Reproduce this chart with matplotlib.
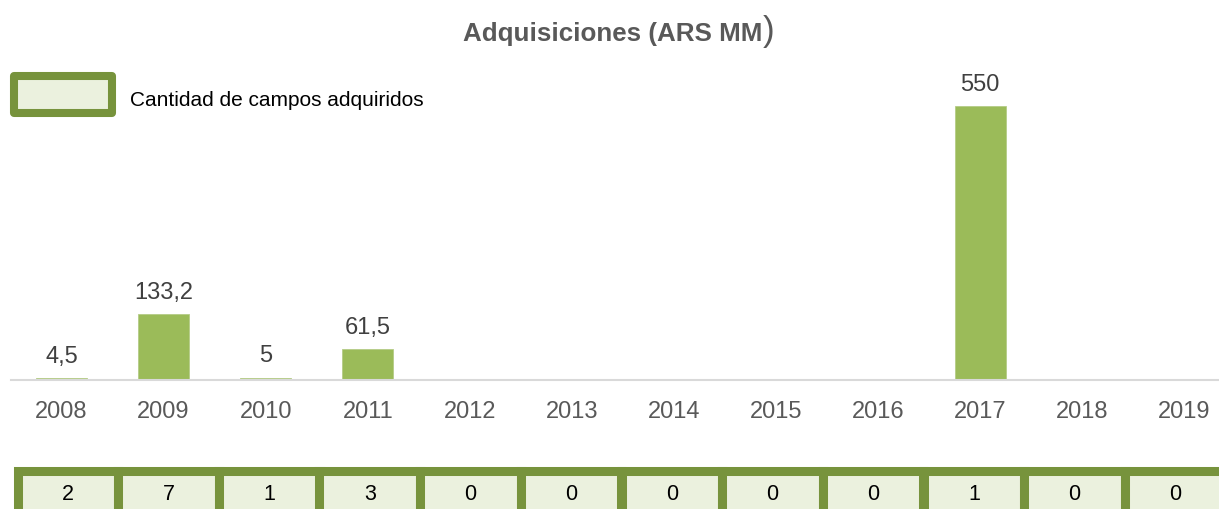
import matplotlib.pyplot as plt
from matplotlib.patches import Rectangle
import numpy as np

# data
years = ['2008', '2009', '2010', '2011', '2012', '2013', '2014', '2015', '2016', '2017', '2018', '2019']
amounts = [4.5, 133.2, 5, 61.5, 0, 0, 0, 0, 0, 550, 0, 0]
amount_labels = ['4,5', '133,2', '5', '61,5', '', '', '', '', '', '550', '', '']
fields_bought = [2, 7, 1, 3, 0, 0, 0, 0, 0, 1, 0, 0]
table_name = 'Cantidad de campos adquiridos'

plt.rcParams['font.family'] = ['Liberation Sans', 'DejaVu Sans']

W, H = 1219, 510
fig = plt.figure(figsize=(W / 100, H / 100), dpi=100)

bar_green = '#9BBB59'
dark_green = '#77933C'
light_green = '#EBF1DE'
grey_text = '#595959'

# main bar chart
ax = fig.add_axes([10.5 / W, (H - 381) / H, 1225 / W, 299 / H])
x = np.arange(len(years))
ax.bar(x, amounts, width=0.5, color=bar_green, edgecolor='#B5CC86', linewidth=0.6)
for xi, v, lab in zip(x, amounts, amount_labels):
    if lab:
        ax.annotate(lab, (xi, v), xytext=(0, 8), textcoords='offset points',
                    ha='center', va='bottom', fontsize=17, color='#404040')
ax.set_xlim(-0.5, len(years) - 0.5)
ax.set_ylim(0, 600)
ax.set_xticks(x)
ax.set_xticklabels(years, fontsize=17, color=grey_text)
ax.tick_params(axis='x', length=0, pad=14.5)
ax.set_yticks([])
for s in ['top', 'right', 'left']:
    ax.spines[s].set_visible(False)
ax.spines['bottom'].set_color('#D9D9D9')
ax.spines['bottom'].set_linewidth(1.5)

# data table row underneath
tax = fig.add_axes([17.5 / W, -8 / H, 1208 / W, 46 / H])
tax.bar(x, [1] * len(years), width=1.0, bottom=0, color=light_green,
        edgecolor=dark_green, linewidth=6.5, clip_on=False)
for xi, n in zip(x, fields_bought):
    tax.text(xi, 0.5, str(n), ha='center', va='center', fontsize=15.5, color='black')
tax.set_xlim(-0.5, len(years) - 0.5)
tax.set_ylim(0, 1)
tax.axis('off')

# legend key for the table row
fig.add_artist(Rectangle((14 / W, 1 - 114 / H), 98 / W, 37 / H, transform=fig.transFigure,
                         facecolor=light_green, edgecolor=dark_green, linewidth=5.8,
                         joinstyle='round'))
fig.text(130 / W, 1 - 100 / H, table_name, ha='left', va='center',
         fontsize=15, color='black')

# title (the closing bracket is drawn lighter and taller, as in the original)
fig.text(762 / W, 1 - 41 / H, 'Adquisiciones (ARS MM', ha='right', va='baseline',
         fontsize=18.7, fontweight='bold', color=grey_text)
fig.text(763 / W, 1 - 41 / H, ')', ha='left', va='baseline',
         fontsize=25, color=grey_text)

fig.savefig('out.png', dpi=100)
